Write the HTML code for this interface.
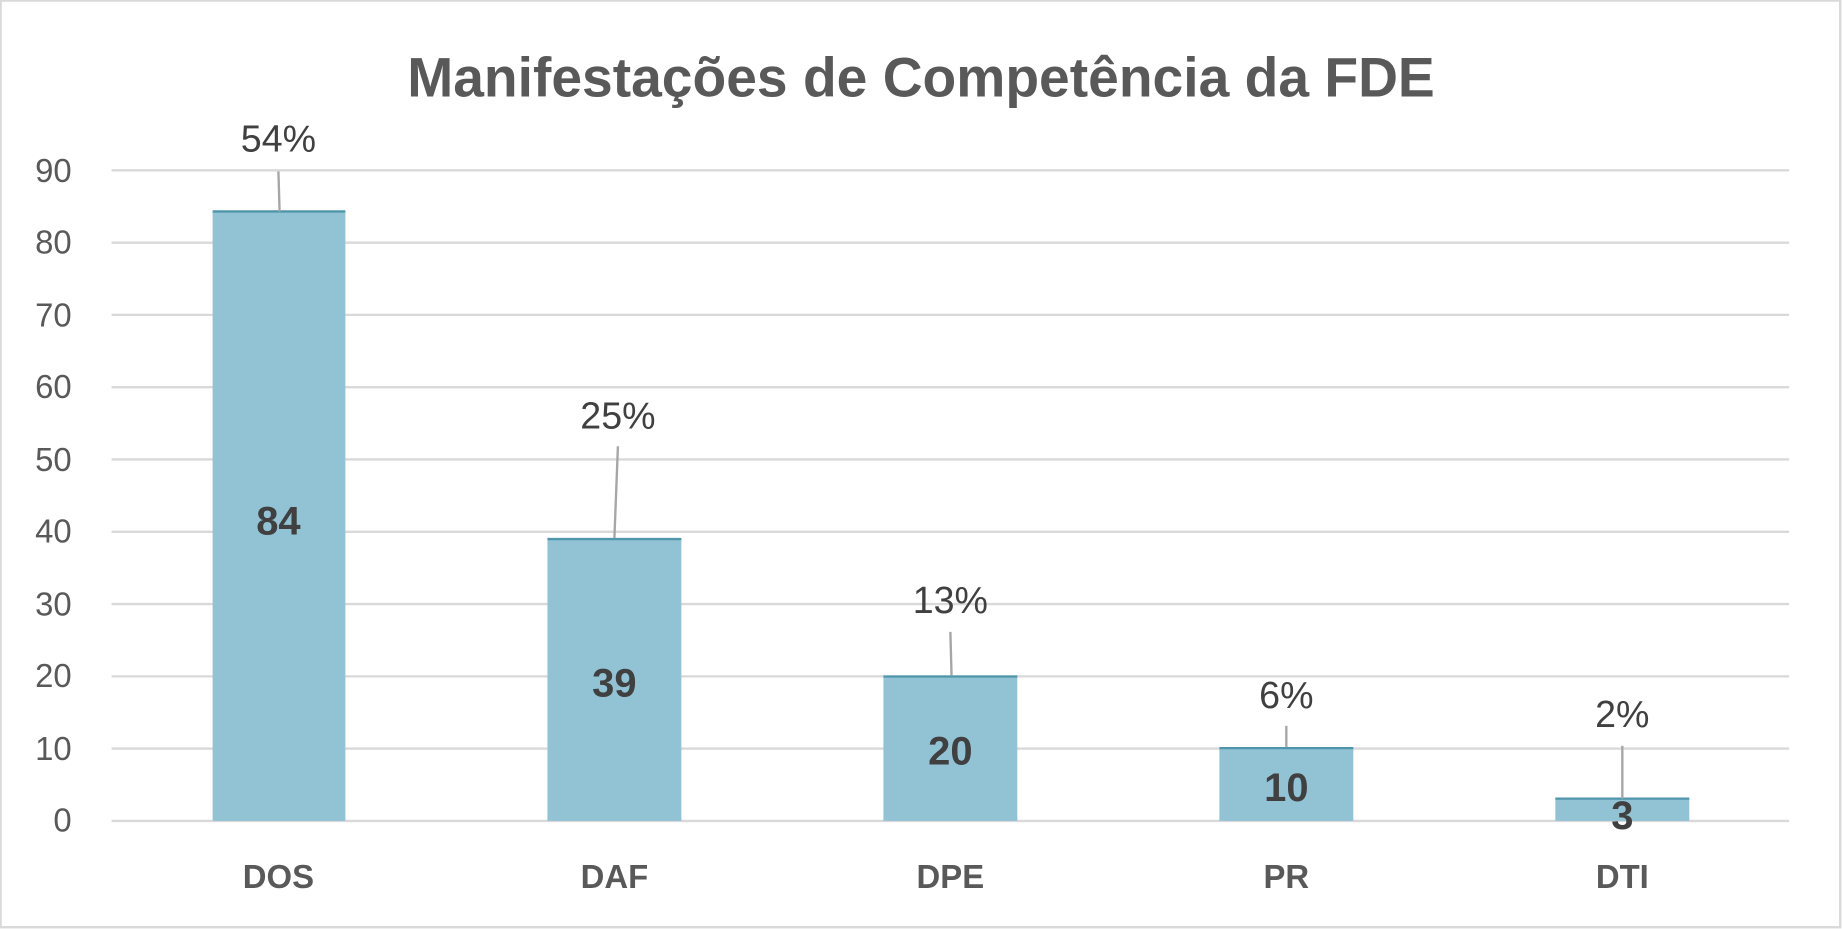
<!DOCTYPE html>
<html><head><meta charset="utf-8"><style>
html,body{margin:0;padding:0;background:#fff;}
svg{display:block;}
text{font-family:"Liberation Sans",sans-serif;}
</style></head><body>
<svg width="1842" height="929" viewBox="0 0 1568 791" preserveAspectRatio="none">
<rect x="0.5" y="0.5" width="1566" height="789" fill="#fff" stroke="#d9d9d9" stroke-width="2"/>
<text x="784" y="82" text-anchor="middle" font-size="47" font-weight="bold" fill="#595959">Manifestações de Competência da FDE</text>
<g stroke="#d9d9d9" stroke-width="2">
<line x1="95" x2="1523" y1="145" y2="145"/>
<line x1="95" x2="1523" y1="206.6" y2="206.6"/>
<line x1="95" x2="1523" y1="268.1" y2="268.1"/>
<line x1="95" x2="1523" y1="329.7" y2="329.7"/>
<line x1="95" x2="1523" y1="391.2" y2="391.2"/>
<line x1="95" x2="1523" y1="452.8" y2="452.8"/>
<line x1="95" x2="1523" y1="514.3" y2="514.3"/>
<line x1="95" x2="1523" y1="575.9" y2="575.9"/>
<line x1="95" x2="1523" y1="637.4" y2="637.4"/>
<line x1="95" x2="1523" y1="699" y2="699"/>
</g>
<g font-size="28" fill="#595959" text-anchor="end">
<text x="61" y="155">90</text><text x="61" y="216">80</text><text x="61" y="278">70</text>
<text x="61" y="339">60</text><text x="61" y="401">50</text><text x="61" y="462">40</text>
<text x="61" y="524">30</text><text x="61" y="585">20</text><text x="61" y="647">10</text>
<text x="61" y="708">0</text>
</g>
<g fill="#92C3D5">
<rect x="181" y="180" width="113" height="519"/>
<rect x="466" y="459" width="114" height="240"/>
<rect x="752" y="576" width="114" height="123"/>
<rect x="1038" y="637" width="114" height="62"/>
<rect x="1324" y="680" width="114" height="19"/>
</g>
<g stroke="#4f95ab" stroke-width="2">
<line x1="181" x2="294" y1="180" y2="180"/>
<line x1="466" x2="580" y1="459" y2="459"/>
<line x1="752" x2="866" y1="576" y2="576"/>
<line x1="1038" x2="1152" y1="637" y2="637"/>
<line x1="1324" x2="1438" y1="680" y2="680"/>
</g>
<g stroke="#a6a6a6" stroke-width="2">
<line x1="237" y1="146" x2="238" y2="180"/>
<line x1="526" y1="380" x2="523" y2="458"/>
<line x1="809" y1="538" x2="810" y2="575"/>
<line x1="1095" y1="618" x2="1095" y2="636"/>
<line x1="1381" y1="635" x2="1381" y2="680"/>
</g>
<g font-size="32" fill="#404040" text-anchor="middle">
<text x="237" y="129">54%</text>
<text x="526" y="365">25%</text>
<text x="809" y="522">13%</text>
<text x="1095" y="603">6%</text>
<text x="1381" y="619">2%</text>
</g>
<g font-size="34" font-weight="bold" fill="#404040" text-anchor="middle">
<text x="237" y="455">84</text>
<text x="523" y="593">39</text>
<text x="809" y="651">20</text>
<text x="1095" y="682">10</text>
<text x="1381" y="706">3</text>
</g>
<g font-size="28" font-weight="bold" fill="#595959" text-anchor="middle">
<text x="237" y="756">DOS</text>
<text x="523" y="756">DAF</text>
<text x="809" y="756">DPE</text>
<text x="1095" y="756">PR</text>
<text x="1381" y="756">DTI</text>
</g>
</svg>
</body></html>
